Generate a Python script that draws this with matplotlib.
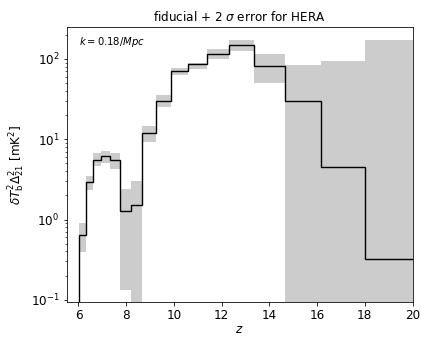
import numpy as np
import matplotlib
matplotlib.use('Agg')
import matplotlib.pyplot as plt

# redshift bin edges (8 MHz frequency bins)
z_edges = [6.02, 6.30, 6.62, 6.96, 7.32, 7.74, 8.20, 8.68, 9.25, 9.87,
           10.58, 11.38, 12.31, 13.37, 14.64, 16.15, 17.99, 20.3]
# fiducial power spectrum [mK^2]
fiducial = [0.644, 2.90, 5.57, 6.19, 5.57, 1.26, 1.50, 11.9, 30.1, 71.4,
            86.1, 114, 147, 82.2, 30.1, 4.47, 0.323]
# 2 sigma band
upper = [0.90, 3.45, 6.74, 7.14, 6.74, 2.37, 2.98, 14.8, 35.5, 78,
         88.5, 133, 172, 114, 84.1, 95.3, 172]
lower = [0.39, 2.35, 4.60, 5.05, 4.30, 0.133, 1e-3, 9.3, 25.4, 63,
         74, 99, 125, 49.6, 1e-3, 1e-3, 1e-3]

plt.rcParams['font.size'] = 12

fig = plt.figure(figsize=(421 / 72, 337 / 72), dpi=72)
ax = fig.add_subplot(111)
fig.subplots_adjust(left=0.158, right=0.980, bottom=0.104, top=0.920)

ax.stairs(upper, z_edges, baseline=lower, fill=True, color='#cccccc', lw=0)
ax.stairs(fiducial, z_edges, baseline=1e-3, color='k', lw=1.4)

ax.set_yscale('log')
ax.set_xlim(5.5, 20)
ax.set_ylim(0.094, 250)
ax.set_xticks(np.arange(6, 21, 2))
ax.set_xlabel('$z$', labelpad=1)
ax.set_ylabel(r'$\delta T_{\rm b}^2\Delta_{21}^2$ [mK$^2$]')
ax.set_title(r'fiducial + 2 $\sigma$ error for HERA', fontsize=12)
ax.text(0.035, 0.945, r'$k=0.18/Mpc$', transform=ax.transAxes, fontsize=10,
        va='center', ha='left')

fig.savefig('out.png', dpi=72)
